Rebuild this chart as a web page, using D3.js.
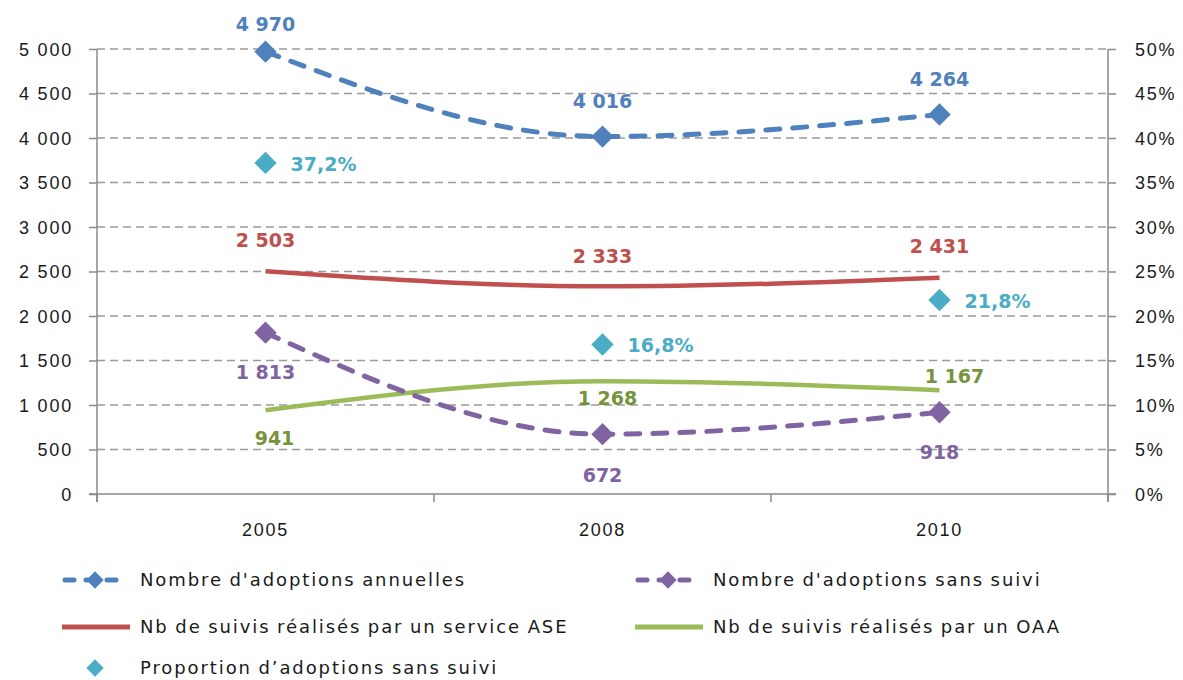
<!DOCTYPE html>
<html>
<head>
<meta charset="utf-8">
<script src="https://cdn.jsdelivr.net/npm/d3@7"></script>
<style>
  body { margin: 0; background: #fff; }
  svg { display: block; font-family: "DejaVu Sans", Verdana, sans-serif; }
  .tick text { font-size: 18px; fill: #1a1a1a; letter-spacing: 1.8px; }
  .lbl { font-size: 19px; font-weight: bold; }
  .leg { font-size: 18px; fill: #1a1a1a; letter-spacing: 1.9px; word-spacing: -1px; }
</style>
</head>
<body>
<svg width="1183" height="680"></svg>
<script>
// data
var years = ["2005", "2008", "2010"];
var adoptionsAnnuelles = [4970, 4016, 4264];
var adoptionsSansSuivi = [1813, 672, 918];
var suivisASE = [2503, 2333, 2431];
var suivisOAA = [941, 1268, 1167];
var proportionSansSuivi = [0.372, 0.168, 0.218];

var leftTicks = [0, 500, 1000, 1500, 2000, 2500, 3000, 3500, 4000, 4500, 5000];
var rightTicks = [0, 0.05, 0.10, 0.15, 0.20, 0.25, 0.30, 0.35, 0.40, 0.45, 0.50];

var svg = d3.select("svg");
var margin = {left: 97, right: 75, top: 49, bottom: 186};
var W = +svg.attr("width"), H = +svg.attr("height");

var fr = d3.formatLocale({decimal: ",", thousands: " ", grouping: [3], currency: ["", " €"]});
var fmtN = fr.format(",d");
var fmtP = fr.format(".1%");
var fmtAxisP = fr.format(".0%");

var x = d3.scaleBand().domain(years).range([margin.left, W - margin.right]).padding(0);
var y = d3.scaleLinear().domain([0, 5000]).range([H - margin.bottom, margin.top]);
var y2 = d3.scaleLinear().domain([0, 0.5]).range([H - margin.bottom, margin.top]);
var cx = function(i) { return x(years[i]) + x.bandwidth() / 2; };

var axisCol = "#8a8a8a";

// gridlines
svg.append("g").selectAll("line")
  .data(leftTicks.slice(1))
  .enter().append("line")
    .attr("x1", margin.left).attr("x2", W - margin.right)
    .attr("y1", function(d) { return y(d); }).attr("y2", function(d) { return y(d); })
    .attr("stroke", "#9a9a9a").attr("stroke-width", 1.3)
    .attr("stroke-dasharray", "8,5");

// axes
var gl = svg.append("g").attr("transform", "translate(" + margin.left + ",0)")
  .call(d3.axisLeft(y).tickValues(leftTicks).tickFormat(fmtN).tickSize(8).tickPadding(16));
var gr = svg.append("g").attr("transform", "translate(" + (W - margin.right) + ",0)")
  .call(d3.axisRight(y2).tickValues(rightTicks).tickFormat(fmtAxisP).tickSize(8).tickPadding(19));
var gb = svg.append("g").attr("transform", "translate(0," + (H - margin.bottom) + ")")
  .call(d3.axisBottom(x).tickSize(0).tickPadding(29));

[gl, gr, gb].forEach(function(g) {
  g.select(".domain").attr("stroke", axisCol).attr("stroke-width", 1.5);
  g.selectAll(".tick line").attr("stroke", axisCol).attr("stroke-width", 1.5);
});
gl.select(".domain").attr("d", "M0," + margin.top + "V" + (H - margin.bottom + 8));
gr.select(".domain").attr("d", "M0," + margin.top + "V" + (H - margin.bottom + 8));
gb.select(".domain").attr("d", "M" + (margin.left - 8) + ",0H" + (W - margin.right + 8));
gl.selectAll(".tick text").attr("dy", "0.35em");
gr.selectAll(".tick text").attr("dy", "0.35em");

// category tick marks between bands
svg.append("g").selectAll("line")
  .data(d3.range(years.length + 1))
  .enter().append("line")
    .attr("x1", function(i) { return margin.left + i * x.bandwidth(); })
    .attr("x2", function(i) { return margin.left + i * x.bandwidth(); })
    .attr("y1", H - margin.bottom).attr("y2", H - margin.bottom + 8)
    .attr("stroke", axisCol).attr("stroke-width", 1.5);

var diamond = d3.symbol().type(d3.symbolSquare);

var series = [
  {name: "Nombre d'adoptions annuelles", values: adoptionsAnnuelles, scale: y, color: "#4F81BD", text: "#4F81BD",
   dash: "14,13", marker: true, line: true, fmt: fmtN, dy: [-35, -35, -35], dx: [0, 0, 0]},
  {name: "Nombre d'adoptions sans suivi", values: adoptionsSansSuivi, scale: y, color: "#8064A2", text: "#8064A2",
   dash: "14,13", marker: true, line: true, fmt: fmtN, dy: [40, 41, 40], dx: [0, 0, 0]},
  {name: "Nb de suivis réalisés par un service ASE", values: suivisASE, scale: y, color: "#C0504D", text: "#C0504D",
   dash: null, marker: false, line: true, fmt: fmtN, dy: [-31, -30, -31], dx: [0, 0, 0]},
  {name: "Nb de suivis réalisés par un OAA", values: suivisOAA, scale: y, color: "#9BBB59", text: "#77933C",
   dash: null, marker: false, line: true, fmt: fmtN, dy: [28, 17, -14], dx: [9, 5, 15]},
  {name: "Proportion d’adoptions sans suivi", values: proportionSansSuivi, scale: y2, color: "#4BACC6", text: "#4BACC6",
   dash: null, marker: true, line: false, fmt: fmtP, dy: [1, 1, 1], dx: [58, 58, 58]}
];

var lineGen = function(s) {
  return d3.line()
    .x(function(d, i) { return cx(i); })
    .y(function(d) { return s.scale(d); })
    .curve(d3.curveMonotoneX);
};

// lines (ASE, OAA first, then dashed ones on top)
[2, 3, 1, 0, 4].forEach(function(k) {
  var s = series[k];
  if (s.line) {
    svg.append("path")
      .attr("d", lineGen(s)(s.values))
      .attr("fill", "none")
      .attr("stroke", s.color)
      .attr("stroke-width", s.dash ? 5 : 4.5)
      .attr("stroke-linecap", s.dash ? "round" : "butt")
      .attr("stroke-dasharray", s.dash);
  }
  if (s.marker) {
    svg.append("g").selectAll("path")
      .data(s.values)
      .enter().append("path")
        .attr("d", diamond.size(250)())
        .attr("transform", function(d, i) { return "translate(" + cx(i) + "," + s.scale(d) + ") rotate(45)"; })
        .attr("fill", s.color);
  }
});

// data labels
series.forEach(function(s) {
  svg.append("g").selectAll("text")
    .data(s.values)
    .enter().append("text")
      .attr("class", "lbl")
      .attr("x", function(d, i) { return cx(i) + s.dx[i]; })
      .attr("y", function(d, i) { return Math.max(24, s.scale(d) + s.dy[i]); })
      .attr("dy", "0.36em")
      .attr("text-anchor", "middle")
      .attr("fill", s.text)
      .text(function(d) { return s.fmt(d); });
});

// legend
var legendPos = [
  {s: 0, x: 62, y: 580}, {s: 1, x: 635, y: 580},
  {s: 2, x: 62, y: 627}, {s: 3, x: 635, y: 627},
  {s: 4, x: 62, y: 668}
];
var lg = svg.append("g");
legendPos.forEach(function(p) {
  var s = series[p.s];
  if (s.line) {
    lg.append("line")
      .attr("x1", p.x + (s.dash ? 3 : 0)).attr("x2", p.x + 68 - (s.dash ? 3 : 0))
      .attr("y1", p.y).attr("y2", p.y)
      .attr("stroke", s.color).attr("stroke-width", 5)
      .attr("stroke-linecap", s.dash ? "round" : "butt")
      .attr("stroke-dasharray", s.dash ? "9,12" : null);
  }
  if (s.marker) {
    lg.append("path")
      .attr("d", diamond.size(150)())
      .attr("transform", "translate(" + (p.x + 33) + "," + p.y + ") rotate(45)")
      .attr("fill", s.color);
  }
  lg.append("text")
    .attr("class", "leg")
    .attr("x", p.x + 78).attr("y", p.y)
    .attr("dy", "0.35em")
    .text(s.name);
});
</script>
</body>
</html>
